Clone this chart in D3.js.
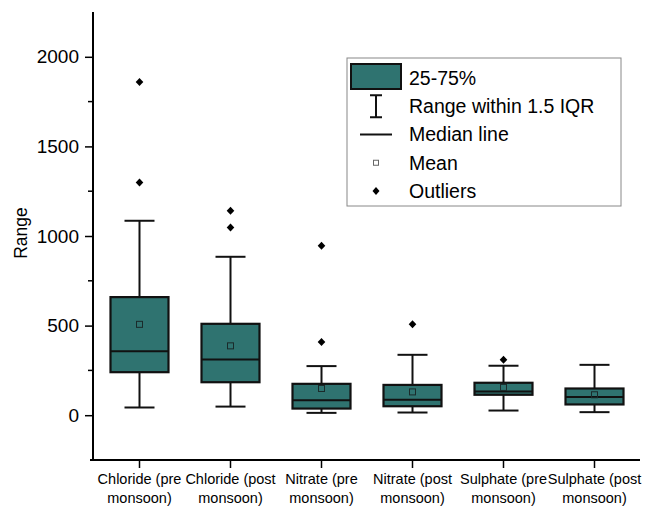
<!DOCTYPE html>
<html>
<head>
<meta charset="utf-8">
<script src="https://cdn.jsdelivr.net/npm/d3@7"></script>
<style>
  body { margin: 0; background: #fff; }
  svg { font-family: "Liberation Sans", Arial, Helvetica, sans-serif; }
</style>
</head>
<body>
<div id="chart"></div>
<script>
// data
const categories = ["Chloride (pre monsoon)", "Chloride (post monsoon)", "Nitrate (pre monsoon)",
    "Nitrate (post monsoon)", "Sulphate (pre monsoon)", "Sulphate (post monsoon)"];
const labelLines = [["Chloride (pre", "monsoon)"], ["Chloride (post", "monsoon)"], ["Nitrate (pre", "monsoon)"],
    ["Nitrate (post", "monsoon)"], ["Sulphate (pre", "monsoon)"], ["Sulphate (post", "monsoon)"]];
const whiskerLow = [43, 48, 13, 15, 26, 17];
const q1 = [240, 184, 37, 50, 114, 60];
const median = [357, 311, 84, 86, 132, 102];
const q3 = [659, 510, 175, 169, 181, 149];
const whiskerHigh = [1085, 884, 274, 337, 276, 281];
const means = [507, 387, 149, 130, 155, 114];
const outliers = [[1298, 1860], [1048, 1141], [408, 946], [508], [309], []];
const yTicks = [0, 500, 1000, 1500, 2000];
const yMinorTicks = [250, 750, 1250, 1750];
const legendItems = ["25-75%", "Range within 1.5 IQR", "Median line", "Mean", "Outliers"];

const W = 655, H = 507;
const fillColor = "#2f7370";

const svg = d3.select("#chart").append("svg")
    .attr("width", W)
    .attr("height", H);

const x = d3.scaleBand().domain(categories).range([94, 640]).padding(0);
const y = d3.scaleLinear().domain([-250, 2250]).range([460, 12]);
const boxW = 58, capW = 30;
const axisX = 93;

// axes
const yAxis = svg.append("g").attr("transform", "translate(" + axisX + ",0)")
    .call(d3.axisLeft(y).tickValues(yTicks).tickSize(8).tickPadding(6).tickFormat(d3.format("d")));
yAxis.select(".domain").attr("stroke-width", 2).attr("d", "M0," + y(2250) + "V" + y(-250));
yAxis.selectAll(".tick line").attr("stroke-width", 1.5);
yAxis.selectAll(".tick text").style("font-size", "19px").attr("fill", "#000");

svg.append("g").selectAll("line").data(yMinorTicks).enter().append("line")
    .attr("x1", axisX - 5).attr("x2", axisX)
    .attr("y1", d => y(d)).attr("y2", d => y(d))
    .attr("stroke", "#000").attr("stroke-width", 1.5);

const xAxis = svg.append("g").attr("transform", "translate(0,460)")
    .call(d3.axisBottom(x).tickSize(8).tickFormat(""));
xAxis.select(".domain").attr("stroke-width", 2).attr("d", "M90,0H640");
xAxis.selectAll(".tick line").attr("stroke-width", 1.5);

xAxis.selectAll(".tick").append("text")
    .attr("fill", "#000")
    .attr("text-anchor", "middle")
    .style("font-size", "14.5px")
    .each(function (d, i) {
        d3.select(this).selectAll("tspan").data(labelLines[i]).enter().append("tspan")
            .attr("x", 0)
            .attr("y", (t, j) => 24 + j * 19)
            .text(t => t);
    });

svg.append("text")
    .attr("transform", "translate(27,233) rotate(-90)")
    .attr("text-anchor", "middle")
    .style("font-size", "17.5px")
    .text("Range");

// boxes
const g = svg.append("g");
categories.forEach(function (c, i) {
    const cx = x(c) + x.bandwidth() / 2;
    const box = g.append("g");
    box.append("line")
        .attr("x1", cx).attr("x2", cx)
        .attr("y1", y(whiskerLow[i])).attr("y2", y(q1[i]))
        .attr("stroke", "#111").attr("stroke-width", 2);
    box.append("line")
        .attr("x1", cx).attr("x2", cx)
        .attr("y1", y(q3[i])).attr("y2", y(whiskerHigh[i]))
        .attr("stroke", "#111").attr("stroke-width", 2);
    [whiskerLow[i], whiskerHigh[i]].forEach(function (v) {
        box.append("line")
            .attr("x1", cx - capW / 2).attr("x2", cx + capW / 2)
            .attr("y1", y(v)).attr("y2", y(v))
            .attr("stroke", "#111").attr("stroke-width", 2);
    });
    box.append("rect")
        .attr("x", cx - boxW / 2)
        .attr("y", y(q3[i]))
        .attr("width", boxW)
        .attr("height", y(q1[i]) - y(q3[i]))
        .attr("fill", fillColor)
        .attr("stroke", "#111")
        .attr("stroke-width", 2.2);
    box.append("line")
        .attr("x1", cx - boxW / 2).attr("x2", cx + boxW / 2)
        .attr("y1", y(median[i])).attr("y2", y(median[i]))
        .attr("stroke", "#111").attr("stroke-width", 2);
    box.append("rect")
        .attr("x", cx - 3).attr("y", y(means[i]) - 3)
        .attr("width", 6).attr("height", 6)
        .attr("fill", "none").attr("stroke", "#1a2a2a").attr("stroke-width", 1);
    box.selectAll(".outlier").data(outliers[i]).enter().append("path")
        .attr("class", "outlier")
        .attr("transform", d => "translate(" + cx + "," + y(d) + ")")
        .attr("d", "M0,-4L3.8,0L0,4L-3.8,0Z")
        .attr("fill", "#000");
});

// legend
const leg = svg.append("g");
leg.append("rect")
    .attr("x", 347).attr("y", 58)
    .attr("width", 274).attr("height", 148)
    .attr("fill", "#fff").attr("stroke", "#888").attr("stroke-width", 1);
const rowY = d3.scalePoint().domain(legendItems).range([78, 191]);
const sx = 376;
leg.selectAll("text").data(legendItems).enter().append("text")
    .attr("x", 409)
    .attr("y", d => rowY(d))
    .attr("dy", "0.35em")
    .style("font-size", "19.5px")
    .text(d => d);
leg.append("rect")
    .attr("x", 351).attr("y", 64).attr("width", 50).attr("height", 25)
    .attr("fill", fillColor).attr("stroke", "#111").attr("stroke-width", 2);
const ry = rowY(legendItems[1]);
leg.append("path")
    .attr("d", "M" + (sx - 6) + "," + (ry - 11) + "H" + (sx + 6) + "M" + sx + "," + (ry - 11) + "V" + (ry + 11) +
        "M" + (sx - 6) + "," + (ry + 11) + "H" + (sx + 6))
    .attr("stroke", "#111").attr("stroke-width", 2).attr("fill", "none");
const my = rowY(legendItems[2]);
leg.append("line")
    .attr("x1", sx - 16).attr("x2", sx + 16).attr("y1", my).attr("y2", my)
    .attr("stroke", "#111").attr("stroke-width", 2);
leg.append("rect")
    .attr("x", sx - 2.5).attr("y", rowY(legendItems[3]) - 2.5).attr("width", 5).attr("height", 5)
    .attr("fill", "#fff").attr("stroke", "#666").attr("stroke-width", 1);
leg.append("path")
    .attr("transform", "translate(" + sx + "," + rowY(legendItems[4]) + ")")
    .attr("d", "M0,-4L3.5,0L0,4L-3.5,0Z")
    .attr("fill", "#000");
</script>
</body>
</html>
